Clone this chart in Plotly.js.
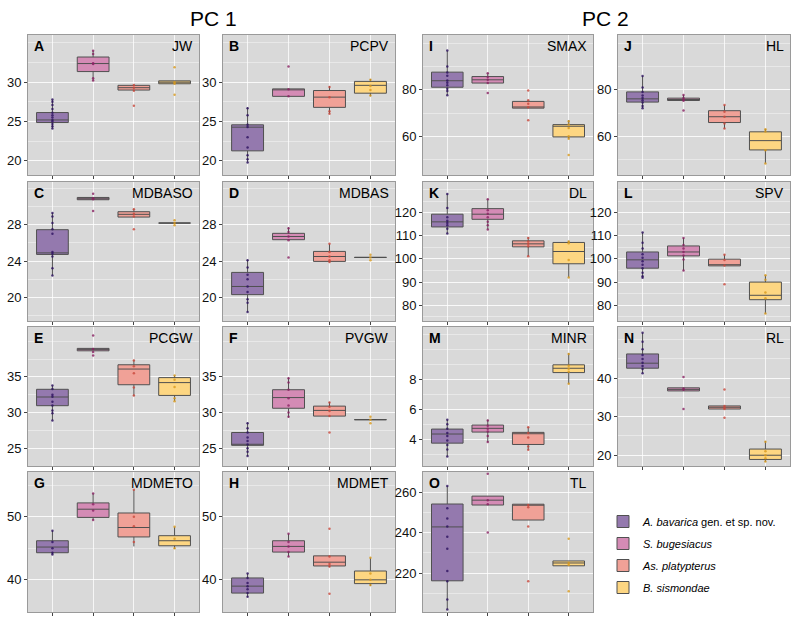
<!DOCTYPE html>
<html><head><meta charset="utf-8">
<script src="https://cdn.plot.ly/plotly-3.0.1.min.js"></script>
<style>body{margin:0;background:#fff}#chart{width:800px;height:623px}</style>
</head><body><div id="chart"></div>
<script>
// ---- groups ----
const groupLabels = ["<i>A. bavarica</i> gen. et sp. nov.", "<i>S. bugesiacus</i>", "<i>As. platypterus</i>", "<i>B. sismondae</i>"];
const boxFill = ["#9479ae", "#d48bb5", "#f0a197", "#fdd682"];
const dotColor = ["#2d1160", "#8a2263", "#c9483c", "#d99a1c"];

// ---- panel names / letters ----
const varNames = ["JW","PCPV","MDBASO","MDBAS","PCGW","PVGW","MDMETO","MDMET","SMAX","HL","DL","SPV","MINR","RL","TL"];
const letters  = ["A","B","C","D","E","F","G","H","I","J","K","L","M","N","O"];

// ---- box stats per group: [lowerWhisker, q1, median, q3, upperWhisker] ----
const JW_stats = [[24.1,24.87,25.2,26.14,27.8],[30.2,31.35,32.37,33.2,34.0],[28.9,29.0,29.3,29.6,29.65],[29.8,29.8,30.0,30.17,30.17]];
const JW_pts = [[24.1,24.4,24.7,25.0,25.2,25.5,25.8,26.1,26.6,27.1,27.5,27.8],[34.0,33.6,32.4,32.3,30.5,30.2],[29.65,29.3,28.9,27.0],[31.9,30.0,29.8,28.4]];

const PCPV_stats = [[19.8,21.27,24.28,24.58,26.8],[28.2,28.2,29.1,29.15,29.15],[26.0,26.8,28.1,28.94,29.5],[28.2,28.6,29.6,30.1,30.4]];
const PCPV_pts = [[26.7,25.8,24.6,24.3,23.0,21.7,20.7,20.2,19.8],[32.0,29.1,28.2],[29.4,28.1,26.3,26.0],[30.3,29.5,29.0,28.3]];

const MDBASO_stats = [[22.4,24.73,24.9,27.45,29.3],[30.75,30.75,30.86,31.0,31.0],[28.84,28.84,29.14,29.43,29.76],[28.18,28.18,28.18,28.18,28.18]];
const MDBASO_pts = [[29.3,28.9,28.2,27.5,27.0,25.0,24.8,24.5,23.2,22.4],[31.4,30.9,30.8,29.5],[29.7,29.2,28.9,27.5],[28.5,28.2,27.95]];

const MDBAS_stats = [[18.4,20.3,21.2,22.75,24.15],[26.35,26.35,26.7,27.05,27.7],[23.85,23.96,24.5,25.06,25.9],[24.4,24.4,24.4,24.4,24.4]];
const MDBAS_pts = [[24.1,23.3,22.5,22.0,21.2,20.6,19.8,19.4,18.4],[27.6,27.2,26.7,26.3,24.4],[25.9,25.0,24.5,24.1,23.9],[24.7,24.4,24.1]];

const PCGW_stats = [[28.9,30.96,32.18,33.26,33.8],[38.66,38.66,38.9,39.0,39.0],[32.3,33.9,36.1,36.7,37.4],[31.6,32.4,34.2,34.9,35.2]];
const PCGW_pts = [[33.8,33.3,32.5,32.2,31.5,31.0,30.3,29.9,28.9],[40.8,38.9,38.5,38.0],[37.3,36.5,35.5,33.5,32.4],[35.2,34.6,33.6,32.0,31.6]];

const PVGW_stats = [[23.9,25.4,25.55,27.2,28.6],[29.3,30.6,32.1,33.2,34.9],[29.5,29.5,30.3,30.9,31.5],[29.0,29.0,29.0,29.0,29.0]];
const PVGW_pts = [[28.5,27.8,27.2,26.5,26.0,25.5,25.0,24.5,23.9],[34.8,34.2,33.2,32.0,31.0,30.0,29.4],[31.4,30.8,30.2,29.5,27.2],[29.4,29.0,28.5]];

const MDMETO_stats = [[44.0,44.3,45.2,46.2,47.8],[49.5,49.9,51.2,52.2,53.7],[45.3,46.8,48.3,50.6,54.3],[44.9,45.4,46.2,47.0,48.4]];
const MDMETO_pts = [[47.8,46.0,45.0,44.3,44.0],[53.7,52.0,51.0,49.5],[54.3,50.0,48.5,46.0],[48.4,46.5,45.0]];

const MDMET_stats = [[37.3,37.9,39.0,40.3,41.0],[43.7,44.4,45.3,46.2,47.3],[42.0,42.2,42.8,43.8,43.8],[39.0,39.4,40.0,41.4,43.5]];
const MDMET_pts = [[41.0,40.3,39.5,39.0,38.5,37.9,37.3],[47.3,46.0,45.3,44.4,43.7],[48.1,43.7,42.5,42.1,37.8],[43.5,41.0,40.0,39.2]];

const SMAX_stats = [[77.7,81.1,83.9,87.6,96.9],[82.9,82.9,84.3,85.7,87.1],[72.1,72.1,72.6,75.0,75.5],[58.9,59.7,64.3,65.0,66.9]];
const SMAX_pts = [[96.9,90.0,87.5,86.0,84.0,83.0,82.0,80.5,79.5,77.7],[87.1,85.5,84.3,82.9,78.6],[79.7,75.5,74.0,72.5,66.9],[66.5,65.0,63.5,60.0,58.9,51.9]];

const HL_stats = [[72.1,74.7,76.1,79.1,85.9],[75.4,75.4,75.7,76.4,77.8],[63.3,65.9,68.4,71.0,73.4],[48.3,54.1,58.1,61.9,63.1]];
const HL_pts = [[85.9,81.0,79.0,77.5,76.5,75.5,74.5,73.0,72.1],[77.8,76.5,75.7,75.3,71.1],[73.4,70.5,68.4,65.5,63.3],[63.0,62.0,54.0,48.3]];

const DL_stats = [[110.9,113.8,116.0,119.3,128.2],[112.7,117.1,119.3,121.7,125.8],[101.2,105.2,106.5,107.8,109.3],[92.0,97.9,103.2,107.1,107.8]];
const DL_pts = [[128.0,122.0,118.0,116.5,115.5,114.5,113.0,111.0],[125.8,121.0,119.5,118.0,116.0,114.5,112.7],[109.0,107.5,106.5,105.5,101.2],[107.5,106.8,99.5,92.0]];

const SPV_stats = [[91.9,96.0,99.6,103.0,111.4],[95.0,101.3,103.0,105.6,109.0],[97.0,97.0,97.5,99.9,101.9],[76.4,82.4,84.3,90.0,92.9]];
const SPV_pts = [[111.4,107.0,104.5,102.0,100.5,99.0,97.5,96.0,94.0,92.5,91.9],[109.0,106.0,104.5,103.0,101.5,99.8,95.0],[101.8,99.5,97.2,89.1],[92.9,91.0,85.5,83.0,76.4]];

const MINR_stats = [[2.83,3.73,4.34,4.67,5.3],[3.8,4.47,4.72,4.94,5.3],[3.28,3.64,4.36,4.45,4.8],[7.7,8.45,8.74,8.97,9.75]];
const MINR_pts = [[5.3,5.0,4.7,4.4,4.2,3.9,3.6,3.3,2.83],[5.25,4.9,4.7,4.5,4.2,3.8],[4.8,4.4,4.1,3.5,3.28],[9.7,8.9,8.7,8.5,7.7]];

const RL_stats = [[41.3,42.6,43.9,46.3,51.8],[36.7,36.7,37.1,37.5,37.5],[32.0,32.0,32.45,32.8,32.8],[18.3,18.9,20.0,21.6,23.7]];
const RL_pts = [[51.8,49.5,47.5,46.0,45.0,44.0,43.2,42.4,41.3],[40.3,37.3,37.0,32.0],[37.1,32.8,32.3,32.0,29.7],[23.5,21.0,20.0,19.2,18.4]];

const TL_stats = [[202,216.2,242.8,254.1,263],[253.6,253.6,256,258,258],[246.2,246.2,253.5,254,254],[223.6,223.6,225,226,226]];
const TL_pts = [[263,252,247,243,238,232,221,216,207,202],[269,256,254,240],[253.6,252.5,243,216],[237,225,224,211]];

// ---- y-axis tick labels per panel ----
const JW_ticks = [20,25,30], PCPV_ticks = [20,25,30], MDBASO_ticks = [20,24,28], MDBAS_ticks = [20,24,28];
const PCGW_ticks = [25,30,35], PVGW_ticks = [25,30,35], MDMETO_ticks = [40,50], MDMET_ticks = [40,50];
const SMAX_ticks = [60,80], HL_ticks = [60,80], DL_ticks = [80,90,100,110,120], SPV_ticks = [80,90,100,110,120];
const MINR_ticks = [4,6,8], RL_ticks = [20,30,40], TL_ticks = [220,240,260];

const STATS = {JW:JW_stats,PCPV:PCPV_stats,MDBASO:MDBASO_stats,MDBAS:MDBAS_stats,PCGW:PCGW_stats,PVGW:PVGW_stats,MDMETO:MDMETO_stats,MDMET:MDMET_stats,SMAX:SMAX_stats,HL:HL_stats,DL:DL_stats,SPV:SPV_stats,MINR:MINR_stats,RL:RL_stats,TL:TL_stats};
const PTS = {JW:JW_pts,PCPV:PCPV_pts,MDBASO:MDBASO_pts,MDBAS:MDBAS_pts,PCGW:PCGW_pts,PVGW:PVGW_pts,MDMETO:MDMETO_pts,MDMET:MDMET_pts,SMAX:SMAX_pts,HL:HL_pts,DL:DL_pts,SPV:SPV_pts,MINR:MINR_pts,RL:RL_pts,TL:TL_pts};
const TICKS = {JW:JW_ticks,PCPV:PCPV_ticks,MDBASO:MDBASO_ticks,MDBAS:MDBAS_ticks,PCGW:PCGW_ticks,PVGW:PVGW_ticks,MDMETO:MDMETO_ticks,MDMET:MDMET_ticks,SMAX:SMAX_ticks,HL:HL_ticks,DL:DL_ticks,SPV:SPV_ticks,MINR:MINR_ticks,RL:RL_ticks,TL:TL_ticks};

// ---- layout config (positions / scales) ----
const W = 800, H = 623;
const colPx = [[28,199],[223,395],[423,593],[618,790]];
const rowPx = [[35,175],[182,321],[327,466],[472,612]];
const place = {JW:[0,0],PCPV:[1,0],MDBASO:[0,1],MDBAS:[1,1],PCGW:[0,2],PVGW:[1,2],MDMETO:[0,3],MDMET:[1,3],
               SMAX:[2,0],HL:[3,0],DL:[2,1],SPV:[3,1],MINR:[2,2],RL:[3,2],TL:[2,3]};
const yScale = {JW:[18.2,36.0,2.5],PCPV:[18.2,36.0,2.5],MDBASO:[17.4,32.7,2],MDBAS:[17.4,32.7,2],
  PCGW:[22.5,42,2.5],PVGW:[22.5,42,2.5],MDMETO:[34.9,57.1,5],MDMET:[34.9,57.1,5],
  SMAX:[43.3,103.6,10],HL:[43.3,103.6,10],DL:[73.2,133.2,5],SPV:[73.2,133.2,5],
  MINR:[2.2,11.5,1],RL:[17.2,53.3,5],TL:[200.8,269.9,10]};

const FONT = "Liberation Sans, Arial, sans-serif";
const traces = [];
const layout = {
  width: W, height: H, margin: {l:0,r:0,t:0,b:0},
  paper_bgcolor: "#ffffff", plot_bgcolor: "#d9d9d9",
  font: {family: FONT, color: "#000", size: 12},
  showlegend: true,
  legend: {x: 603/W, y: 1-507/H, xanchor: "left", yanchor: "top", bgcolor: "rgba(0,0,0,0)",
           font: {size: 11, family: FONT}, traceorder: "grouped", tracegroupgap: 3},
  annotations: [
    {text: "PC 1", x: 213/W, y: 1-18/H, xref: "paper", yref: "paper", showarrow: false, font: {size: 21, family: FONT}, xanchor: "center", yanchor: "middle"},
    {text: "PC 2", x: 605/W, y: 1-18/H, xref: "paper", yref: "paper", showarrow: false, font: {size: 21, family: FONT}, xanchor: "center", yanchor: "middle"}
  ]
};

varNames.forEach((v, k) => {
  const n = k === 0 ? "" : String(k + 1);
  const xa = "x" + n, ya = "y" + n;
  const [c, r] = place[v];
  const st = STATS[v], pts = PTS[v];
  for (let g = 0; g < 4; g++) {
    traces.push({
      type: "box", x: [g], xaxis: xa, yaxis: ya,
      lowerfence: [st[g][0]], q1: [st[g][1]], median: [st[g][2]], q3: [st[g][3]], upperfence: [st[g][4]],
      fillcolor: boxFill[g], line: {color: "#505050", width: 1}, width: 0.78, whiskerwidth: 0,
      boxpoints: false, hoverinfo: "skip", name: groupLabels[g], legendgroup: "g" + g, showlegend: k === 0
    });
    traces.push({
      type: "scatter", mode: "markers", xaxis: xa, yaxis: ya,
      x: pts[g].map(() => g), y: pts[g],
      marker: {size: 2.5, color: dotColor[g], opacity: 0.8}, hoverinfo: "skip", showlegend: false, legendgroup: "g" + g
    });
  }
  const [y0, y1, minorStep] = yScale[v];
  layout["xaxis" + n] = {
    domain: [colPx[c][0]/W, colPx[c][1]/W], anchor: ya, range: [-0.6, 3.6],
    tickmode: "array", tickvals: [0,1,2,3], showticklabels: false, ticks: "outside", ticklen: 3, tickcolor: "#444",
    showgrid: true, gridcolor: "rgba(255,255,255,0.75)", gridwidth: 1, zeroline: false,
    showline: true, linecolor: "#9a9a9a", linewidth: 1, mirror: true, fixedrange: true
  };
  layout["yaxis" + n] = {
    domain: [1 - rowPx[r][1]/H, 1 - rowPx[r][0]/H], anchor: xa, range: [y0, y1],
    tickmode: "array", tickvals: TICKS[v], ticks: "outside", ticklen: 3, tickcolor: "#444",
    tickfont: {size: 13, family: FONT, color: "#111"},
    showgrid: true, gridcolor: "rgba(255,255,255,0.75)", gridwidth: 1, zeroline: false,
    minor: {tickmode: "linear", tick0: 0, dtick: minorStep, showgrid: true, gridcolor: "rgba(255,255,255,0.4)", gridwidth: 1, ticks: ""},
    showline: true, linecolor: "#9a9a9a", linewidth: 1, mirror: true, fixedrange: true
  };
  const xr = (k === 0 ? "x" : "x" + n) + " domain", yr = (k === 0 ? "y" : "y" + n) + " domain";
  layout.annotations.push({text: "<b>" + letters[k] + "</b>", xref: xr, yref: yr, x: 0.025, y: 0.99,
    xanchor: "left", yanchor: "top", showarrow: false, font: {size: 14, family: FONT}});
  layout.annotations.push({text: v, xref: xr, yref: yr, x: 0.975, y: 0.99,
    xanchor: "right", yanchor: "top", showarrow: false, font: {size: 14, family: FONT}});
});

Plotly.newPlot("chart", traces, layout, {displayModeBar: false, staticPlot: true});
</script>
</body></html>
